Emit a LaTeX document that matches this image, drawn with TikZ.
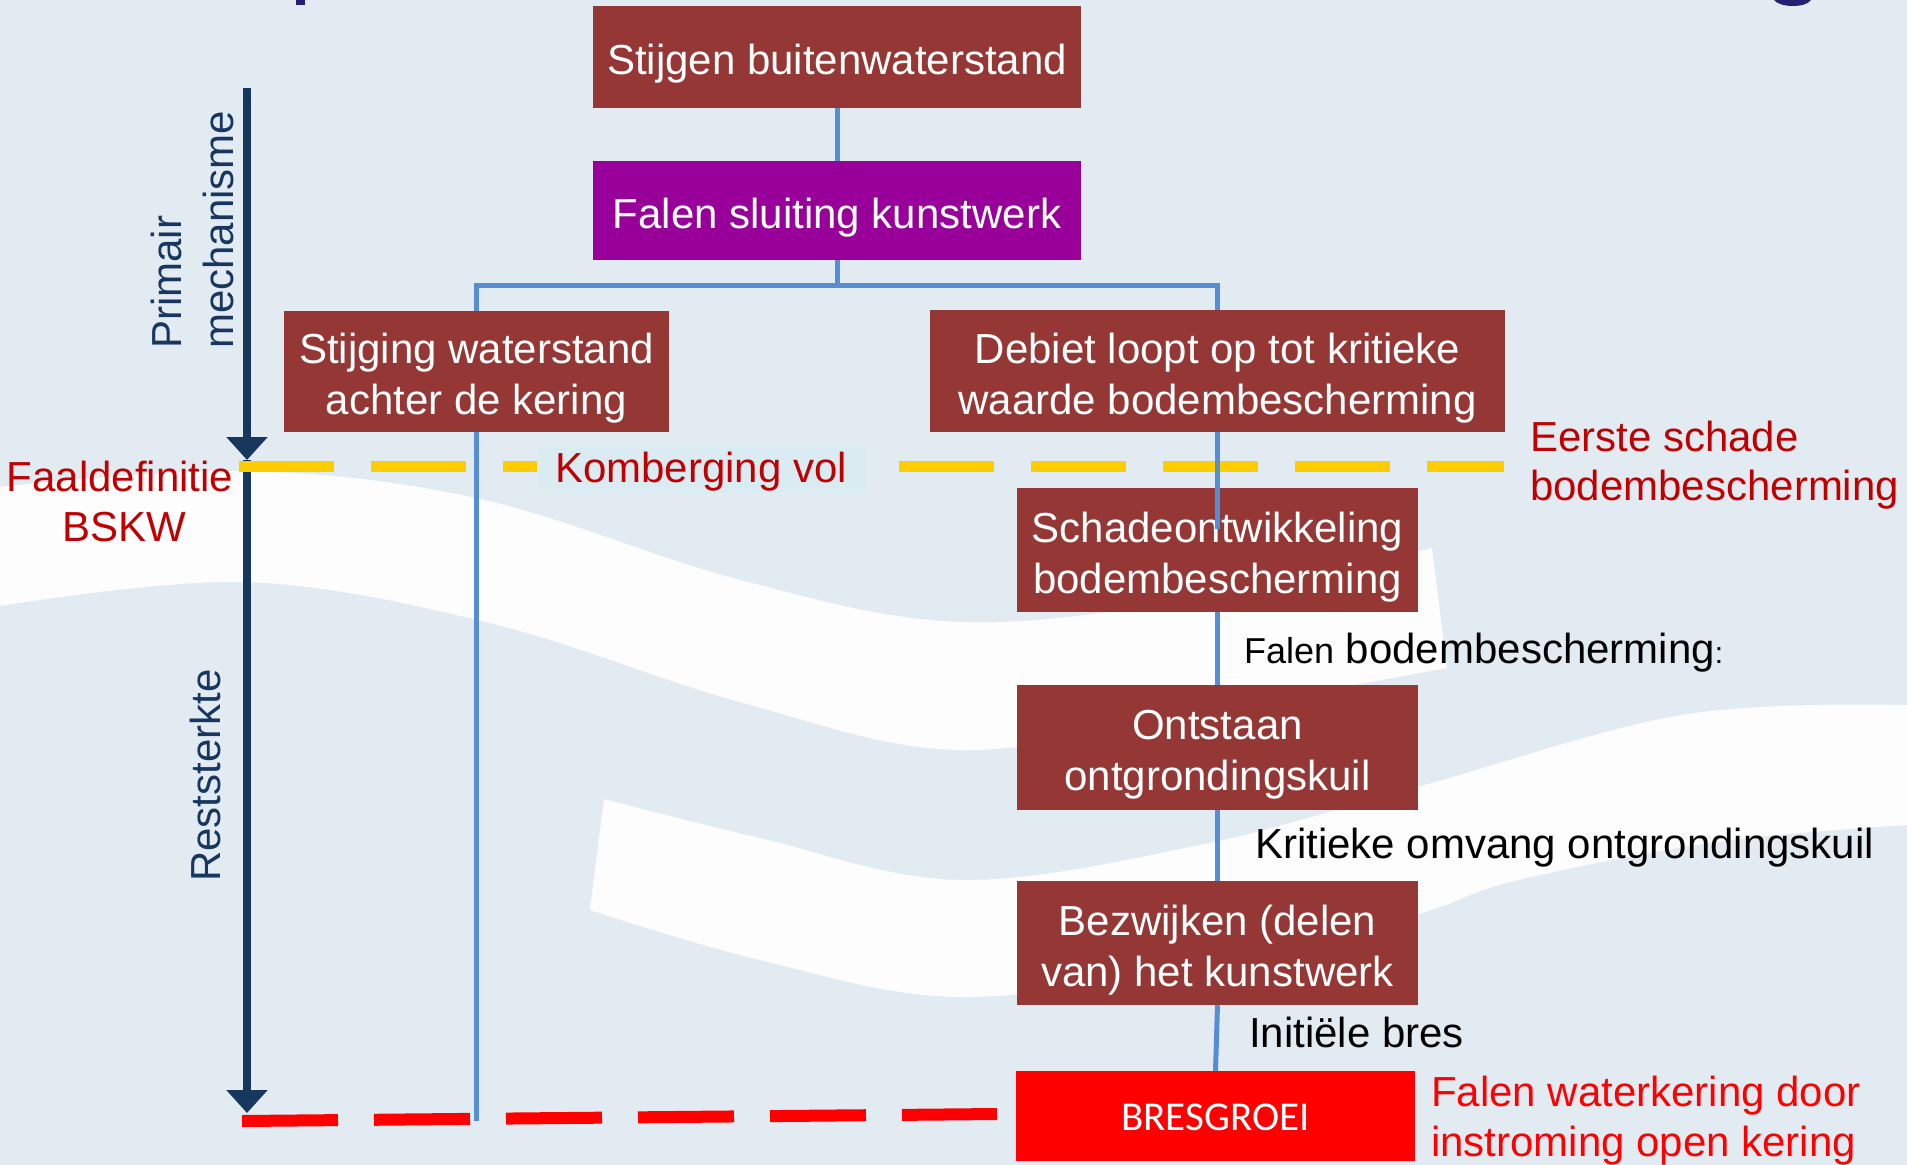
\documentclass[tikz,border=0pt]{standalone}
\usepackage{fontspec}
\setmainfont{Liberation Sans}
\newfontfamily\calibrifont{Carlito}
\usetikzlibrary{arrows.meta}
\definecolor{bg}{HTML}{E3EBF2}
\definecolor{boxred}{HTML}{953735}
\definecolor{boxpurple}{HTML}{990099}
\definecolor{linkblue}{HTML}{558ED5}
\definecolor{navy}{HTML}{17375E}
\definecolor{dashyellow}{HTML}{FFCC00}
\definecolor{darkred}{HTML}{C00000}
\definecolor{brightred}{HTML}{FF0000}
\definecolor{labelbg}{HTML}{DAECF2}
\definecolor{titleblue}{HTML}{262072}
\newcommand\boxstrut{\rule{0pt}{44pt}}
\tikzset{
  stepbox/.style={fill=boxred, text=white, align=center, inner sep=0pt,
    font=\fontsize{42}{51}\selectfont},
  link/.style={draw=linkblue, line width=5pt},
  navyarrow/.style={draw=navy, line width=7.5pt, -{Triangle[width=40pt,length=23pt]}},
  yellowdash/.style={draw=dashyellow, line width=11pt, dash pattern=on 95pt off 37pt},
  reddash/.style={draw=brightred, line width=12pt, dash pattern=on 96pt off 36pt},
  rotlabel/.style={rotate=90, text=navy, inner sep=0pt, font=\fontsize{42}{50}\selectfont},
  redlabel/.style={text=darkred, inner sep=0pt, font=\fontsize{42}{50}\selectfont},
  blacklabel/.style={text=black, inner sep=0pt, font=\fontsize{42}{50}\selectfont},
  wave/.style={fill=white, opacity=0.95}
}
\begin{document}
\begin{tikzpicture}[x=1pt,y=-1pt]
\useasboundingbox (0,0) rectangle (1907,1165);
\fill[bg] (0,0) rectangle (1907,1165);
% background swooshes
\fill[wave] plot[smooth, tension=0.6] coordinates {(0,487) (245,471) (480,499) (740,580) (960,622) (1200,598) (1432,548)}
  -- plot[smooth, tension=0.6] coordinates {(1447,668) (1200,712) (960,750) (740,702) (490,623) (245,582) (0,606)} -- cycle;
\fill[wave] plot[smooth, tension=0.6] coordinates {(604,799) (760,838) (960,880) (1200,845) (1414,788) (1682,715) (1907,705)}
  -- plot[smooth, tension=0.6] coordinates {(1907,825) (1716,842) (1514,881) (1414,915) (1200,965) (960,997) (760,960) (590,910)} -- cycle;
% fragments of the cut-off title
\fill[titleblue] (296,0) rectangle (305,5);
\fill[titleblue] (1774,0) .. controls (1780,8) and (1806,8) .. (1811,0) -- cycle;
% vertical arrows
\coordinate (arrTop) at (247,88);
\coordinate (arrMid) at (247,460);
\coordinate (arrBot) at (247,1113);
\draw[navyarrow] (arrTop) -- (arrMid);
\draw[navyarrow] (arrMid) -- (arrBot);
% level lines
\coordinate (yl) at (239,466);
\coordinate (yr) at (1504,466);
\draw[yellowdash] (yl) -- (yr);
\coordinate (rl) at (242,1121);
\coordinate (rr) at (997,1114);
\draw[reddash] (rl) -- (rr);
% boxes
\node[stepbox, minimum width=488pt, minimum height=102pt] (b1) at (837,57) {\boxstrut Stijgen buitenwaterstand};
\node[stepbox, fill=boxpurple, minimum width=488pt, minimum height=99pt] (b2) at (837,210.5) {\boxstrut Falen sluiting kunstwerk};
\node[stepbox, minimum width=385pt, minimum height=121pt] (b3) at (476.5,371.5) {\boxstrut Stijging waterstand\\achter de kering};
\node[stepbox, minimum width=575pt, minimum height=122pt] (b4) at (1217.5,371) {\boxstrut Debiet loopt op tot kritieke\\waarde bodembescherming};
\node[stepbox, minimum width=401pt, minimum height=124pt] (b5) at (1217.5,550) {\boxstrut Schadeontwikkeling\\bodembescherming};
\node[stepbox, minimum width=401pt, minimum height=125pt] (b6) at (1217.5,747.5) {\boxstrut Ontstaan\\ontgrondingskuil};
\node[stepbox, minimum width=401pt, minimum height=124pt] (b7) at (1217.5,943) {\boxstrut Bezwijken (delen\\van) het kunstwerk};
\node[stepbox, fill=brightred, minimum width=399pt, minimum height=90pt, text height=28pt, text depth=0pt, font=\calibrifont\fontsize{41}{49}\selectfont] (b8) at (1215.5,1116) {BRESGROEI};
% connectors
\coordinate (b3end) at (476.5,1121);
\coordinate (b5in) at (1217.5,529);
\draw[link] (b1.south) -- (b2.north);
\draw[link] (b2.south) -- ++(0,25) -| (b3.north);
\draw[link] (b2.south) -- ++(0,25) -| (b4.north);
\draw[link] (b3.south) -- (b3end);
\draw[link] (b4.south) -- (b5in);
\draw[link] (b5.south) -- (b6.north);
\draw[link] (b6.south) -- (b7.north);
\draw[link] (b7.south) -- (b8.north);
% rotated labels
\node[rotlabel, anchor=base west] (prim1) at (181,349) {Primair};
\node[rotlabel, anchor=base west] (prim2) at (233,349) {mechanisme};
\node[rotlabel, anchor=base west] (rest) at (220,882) {Reststerkte};
% red labels
\node[redlabel, anchor=base] (faal1) at (120,491) {Faaldefinitie};
\node[redlabel, anchor=base] (faal2) at (124,541) {BSKW};
\node[redlabel, anchor=base west, fill=labelbg, inner xsep=18pt, inner ysep=1.5pt, text height=38pt, text depth=9pt] (komb) at (537,482) {Komberging vol};
\node[redlabel, anchor=base west] (eerste1) at (1530,451) {Eerste schade};
\node[redlabel, anchor=base west] (eerste2) at (1530,500) {bodembescherming};
\node[redlabel, text=brightred, anchor=base west] (falenw1) at (1431,1106) {Falen waterkering door};
\node[redlabel, text=brightred, anchor=base west] (falenw2) at (1431,1156) {instroming open kering};
% black labels
\node[blacklabel, anchor=base west] (lab1) at (1244,663) {{\fontsize{36}{43}\selectfont Falen} bodembescherming{\fontsize{30}{36}\selectfont :}};
\node[blacklabel, anchor=base west] (lab2) at (1255,858) {Kritieke omvang ontgrondingskuil};
\node[blacklabel, anchor=base west] (lab3) at (1249,1047) {Initiële bres};
\end{tikzpicture}
\end{document}
